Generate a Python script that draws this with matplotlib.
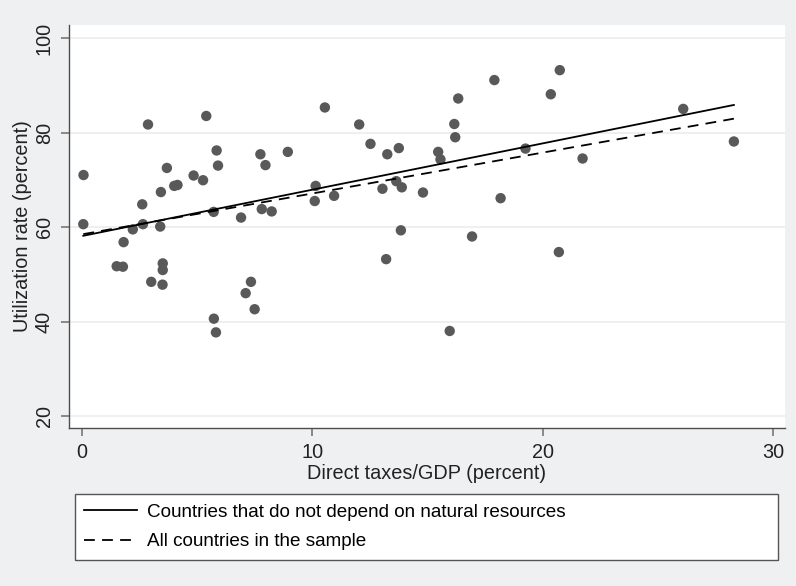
import matplotlib
matplotlib.use("Agg")
import matplotlib.pyplot as plt
import numpy as np

# --- data ---
tax_gdp = [0.06, 0.05, 2.86, 5.39, 5.84, 5.90, 3.68, 4.84, 5.25, 4.00,
           4.14, 3.42, 2.61, 2.64, 3.39, 2.20, 5.71, 6.90, 7.74, 7.96,
           7.80, 8.23, 8.93, 1.80, 1.50, 1.77, 3.50, 3.50, 3.00, 3.49,
           5.72, 5.81, 7.33, 7.10, 7.49, 10.54, 12.03, 12.52, 13.25, 13.75,
           16.16, 16.33, 16.20, 17.90, 20.35, 15.46, 15.56, 19.25, 10.14, 10.10,
           10.94, 13.04, 13.64, 13.88, 14.80, 18.17, 13.84, 16.93, 13.20, 15.96,
           20.74, 26.10, 21.73, 28.30, 20.70]
util_rate = [71.0, 60.6, 81.7, 83.5, 76.2, 73.0, 72.5, 70.9, 69.9, 68.7,
             68.9, 67.4, 64.8, 60.6, 60.1, 59.5, 63.2, 62.0, 75.4, 73.1,
             63.8, 63.3, 75.9, 56.8, 51.7, 51.6, 52.3, 50.9, 48.4, 47.8,
             40.6, 37.7, 48.4, 46.0, 42.6, 85.3, 81.7, 77.6, 75.4, 76.7,
             81.8, 87.2, 79.0, 91.1, 88.1, 75.9, 74.3, 76.6, 68.7, 65.5,
             66.6, 68.1, 69.7, 68.4, 67.3, 66.1, 59.3, 58.0, 53.2, 38.0,
             93.2, 85.0, 74.5, 78.1, 54.7]

# fitted lines: (intercept, slope)
fit_no_resources = (58.1, 0.98)
fit_all = (58.45, 0.865)

label_no_resources = "Countries that do not depend on natural resources"
label_all = "All countries in the sample"

x_ticks = [0, 10, 20, 30]
y_ticks = [20, 40, 60, 80, 100]

BG = "#eef0f2"
DOT = "#595959"
AXIS = "#4d4d4d"
FS = 14.3

plt.rcParams['font.family'] = ['Liberation Sans', 'DejaVu Sans']

fig = plt.figure(figsize=(7.96, 5.86), dpi=100, facecolor=BG)
ax = fig.add_axes([0.0867, 0.2696, 0.8995, 0.6877])
ax.set_facecolor("white")

x = np.array(tax_gdp)
y = np.array(util_rate)
ax.scatter(x, y, s=56, color=DOT, edgecolors="none", zorder=3)

xs = np.array([x.min(), x.max()])
line1, = ax.plot(xs, fit_no_resources[0] + fit_no_resources[1] * xs,
                 color="black", lw=1.3, zorder=4, label=label_no_resources)
line2, = ax.plot(xs, fit_all[0] + fit_all[1] * xs,
                 color="black", lw=1.3, ls=(0, (6, 4)), zorder=4, label=label_all)

ax.set_xlim(-0.57, 30.52)
ax.set_ylim(17.46, 102.75)
ax.set_xticks(x_ticks)
ax.set_yticks(y_ticks)
ax.grid(axis="y", color="#ececec", lw=1.2)
ax.set_axisbelow(True)

for s in ("top", "right"):
    ax.spines[s].set_visible(False)
for s in ("left", "bottom"):
    ax.spines[s].set_color(AXIS)
    ax.spines[s].set_linewidth(1.0)

ax.tick_params(axis="both", colors="#777777", length=6, width=1.2,
               labelcolor="#222222", labelsize=FS, pad=5)
for lbl in ax.get_yticklabels():
    lbl.set_rotation(90)
    lbl.set_va("center")

ax.set_xlabel("Direct taxes/GDP (percent)", fontsize=FS, color="#222222", labelpad=1)
ax.set_ylabel("Utilization rate (percent)", fontsize=FS, color="#222222", labelpad=2)

leg = fig.legend(handles=[line1, line2], loc="upper left",
                 bbox_to_anchor=(75 / 796, 1 - 560 / 586, 703 / 796, 66 / 586),
                 mode="expand", fontsize=13.6, frameon=True, fancybox=False,
                 framealpha=1.0, handlelength=2.8, handletextpad=0.5,
                 borderpad=0.5, labelspacing=0.65, borderaxespad=0)
leg.get_frame().set_edgecolor("#555555")
leg.get_frame().set_linewidth(1.0)
leg.get_frame().set_facecolor("white")

fig.savefig("out.png", dpi=100, facecolor=BG)
